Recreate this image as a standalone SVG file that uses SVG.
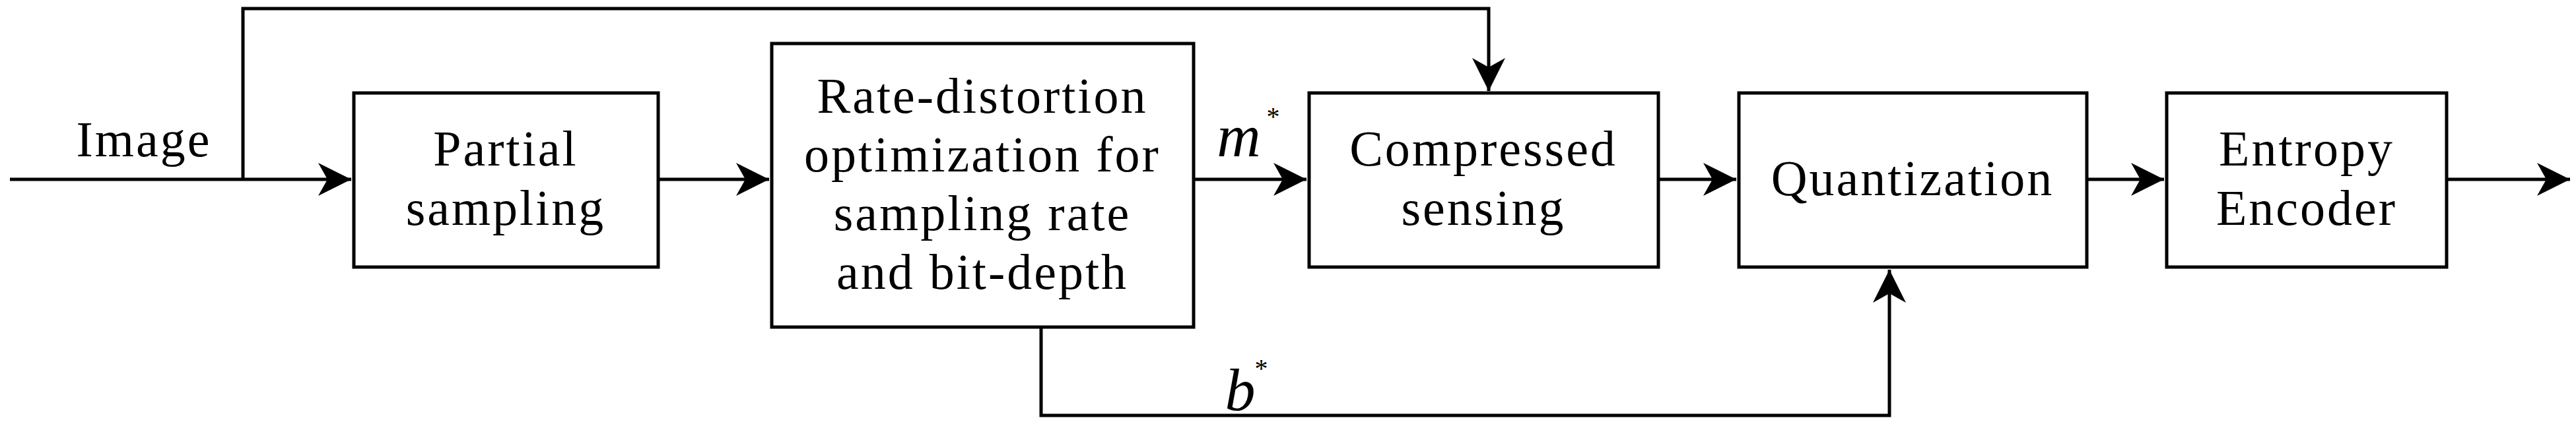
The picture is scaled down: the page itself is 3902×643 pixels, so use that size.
<svg xmlns="http://www.w3.org/2000/svg" width="3902" height="643" viewBox="0 0 3902 643">
<style>
.box{fill:#fff;stroke:#000;stroke-width:5}
.ln{fill:none;stroke:#000;stroke-width:5}
text{font-family:"Liberation Serif","DejaVu Serif",serif;font-size:76px;letter-spacing:3px;fill:#000;text-anchor:middle}
.it{font-style:italic;font-size:92px}
.st{font-size:40px}
</style>
<defs>
<marker id="a" markerUnits="userSpaceOnUse" markerWidth="60" markerHeight="60" refX="50" refY="25" orient="auto">
<path d="M0,0 L50,25 L0,50 L14,25 Z" fill="#000"/>
</marker>
</defs>
<g id="connectors">
<path class="ln" d="M15,272 H532" marker-end="url(#a)"/>
<path class="ln" d="M368,272 V13 H2255 V138" marker-end="url(#a)"/>
<path class="ln" d="M997,272 H1165" marker-end="url(#a)"/>
<path class="ln" d="M1808,272 H1979" marker-end="url(#a)"/>
<path class="ln" d="M2512,272 H2630" marker-end="url(#a)"/>
<path class="ln" d="M3161,272 H3278" marker-end="url(#a)"/>
<path class="ln" d="M3706,272 H3893" marker-end="url(#a)"/>
<path class="ln" d="M1577,496 V630 H2862 V409" marker-end="url(#a)"/>
<text x="218" y="237">Image</text>
<text class="it" x="1878" y="237">m</text><text class="st" x="1930" y="190">*</text>
<text class="it" x="1880" y="622">b</text><text class="st" x="1912" y="572">*</text>
</g>
<g id="partial"><rect class="box" x="536" y="141" width="461" height="264"/>
<text x="766" y="251">Partial</text><text x="766" y="341">sampling</text></g>
<g id="rd"><rect class="box" x="1169" y="66" width="639" height="430"/>
<text x="1488" y="171">Rate-distortion</text><text x="1488" y="260">optimization for</text><text x="1488" y="349">sampling rate</text><text x="1488" y="438">and bit-depth</text></g>
<g id="cs"><rect class="box" x="1983" y="141" width="529" height="264"/>
<text x="2247" y="251">Compressed</text><text x="2247" y="341">sensing</text></g>
<g id="quant"><rect class="box" x="2634" y="141" width="527" height="264"/>
<text x="2897" y="296">Quantization</text></g>
<g id="entropy"><rect class="box" x="3282" y="141" width="424" height="264"/>
<text x="3494" y="251">Entropy</text><text x="3494" y="341">Encoder</text></g>
</svg>
